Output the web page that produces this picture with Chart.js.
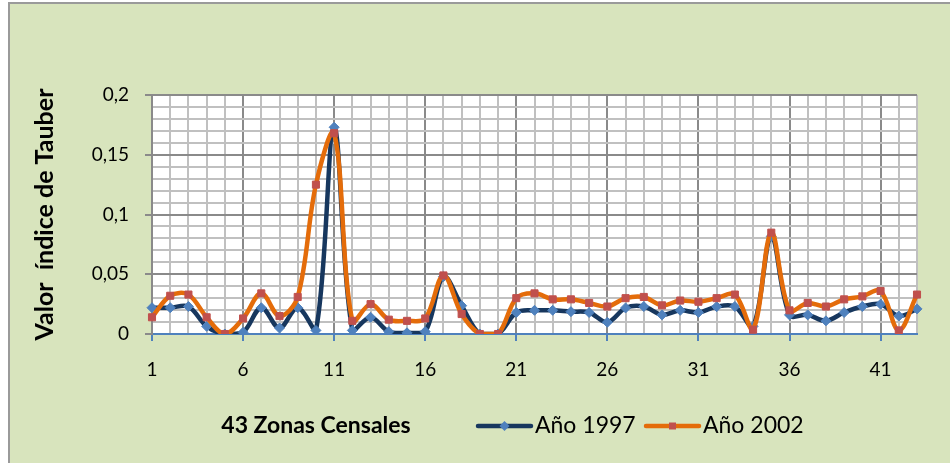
<!DOCTYPE html>
<html>
<head>
<meta charset="utf-8">
<script src="https://cdn.jsdelivr.net/npm/chart.js@4.4.1/dist/chart.umd.min.js"></script>
<style>
  html, body { margin: 0; padding: 0; background: #fff; }
  #wrap { width: 950px; height: 463px; }
</style>
</head>
<body>
<div id="wrap"><canvas id="chart" width="950" height="463"></canvas></div>
<script>
const zonas = ['1','2','3','4','5','6','7','8','9','10','11','12','13','14','15','16','17','18','19','20','21','22','23','24','25','26','27','28','29','30','31','32','33','34','35','36','37','38','39','40','41','42','43'];

const anio1997 = [0.022, 0.022, 0.023, 0.0064, 0, 0.0014, 0.022, 0.005, 0.022, 0.003,
  0.173, 0.003, 0.014, 0.002, 0.001, 0.002, 0.048, 0.0237, 0, 0,
  0.018, 0.0198, 0.0198, 0.0187, 0.018, 0.0098, 0.0218, 0.023, 0.016, 0.0198,
  0.018, 0.0229, 0.023, 0.0064, 0.0817, 0.016, 0.016, 0.011, 0.018, 0.023,
  0.025, 0.015, 0.021];

const anio2002 = [0.014, 0.032, 0.033, 0.014, 0, 0.013, 0.034, 0.015, 0.031, 0.125,
  0.168, 0.011, 0.025, 0.012, 0.011, 0.013, 0.049, 0.0167, 0, 0,
  0.030, 0.034, 0.029, 0.029, 0.026, 0.023, 0.030, 0.031, 0.024, 0.028,
  0.027, 0.030, 0.033, 0.0036, 0.0848, 0.0198, 0.026, 0.023, 0.029, 0.0315,
  0.036, 0.003, 0.033];

const yTickValues = [0, 0.05, 0.1, 0.15, 0.2];
const yTickLabels = ['0', '0,05', '0,1', '0,15', '0,2'];
const seriesNames = ['Año 1997', 'Año 2002'];

const MAJOR = '#8a8a8a';
const MINOR = '#c0c0c0';
const FONT = 'Lato';

// which y index is a labelled (major) line
function yMajorIndex(v) {
  for (let i = 0; i < yTickValues.length; i++) {
    if (Math.abs(v - yTickValues[i]) < 1e-6) return i;
  }
  return -1;
}

const frame = {
  id: 'frame',
  beforeDraw(chart) {
    const ctx = chart.ctx;
    const a = chart.chartArea;
    ctx.save();
    ctx.fillStyle = '#ffffff';
    ctx.fillRect(0, 0, chart.width, chart.height);
    ctx.fillStyle = '#d8e4bd';
    ctx.fillRect(9, 3, chart.width - 9, chart.height - 3);
    ctx.strokeStyle = '#9a9a9a';
    ctx.lineWidth = 2;
    ctx.beginPath();
    ctx.moveTo(9, chart.height);
    ctx.lineTo(9, 3);
    ctx.lineTo(chart.width, 3);
    ctx.stroke();
    ctx.fillStyle = '#ffffff';
    ctx.fillRect(a.left, a.top, a.right - a.left, a.bottom - a.top);
    ctx.restore();
  },
  afterDraw(chart) {
    const ctx = chart.ctx;
    const y = 426;
    ctx.save();
    ctx.fillStyle = '#000';
    ctx.textBaseline = 'middle';
    ctx.textAlign = 'center';
    ctx.font = 'bold 23px ' + FONT;
    ctx.fillText('43 Zonas Censales', 316, y);

    // legend
    const items = [
      { x: 478, ds: chart.data.datasets[0] },
      { x: 646, ds: chart.data.datasets[1] }
    ];
    items.forEach(it => {
      ctx.strokeStyle = it.ds.borderColor;
      ctx.lineWidth = 4.5;
      ctx.lineCap = 'round';
      ctx.beginPath();
      ctx.moveTo(it.x, y);
      ctx.lineTo(it.x + 53, y);
      ctx.stroke();
      ctx.fillStyle = it.ds.pointBackgroundColor;
      ctx.beginPath();
      const cx = it.x + 26.5;
      if (it.ds.pointStyle === 'rectRot') {
        ctx.moveTo(cx, y - 5);
        ctx.lineTo(cx + 5, y);
        ctx.lineTo(cx, y + 5);
        ctx.lineTo(cx - 5, y);
        ctx.closePath();
      } else {
        ctx.rect(cx - 3.5, y - 3.5, 7, 7);
      }
      ctx.fill();
      ctx.fillStyle = '#000';
      ctx.textAlign = 'left';
      ctx.font = '23px ' + FONT;
      ctx.fillText(it.ds.label, it.x + 57, y);
    });
    ctx.restore();
  }
};

new Chart(document.getElementById('chart'), {
  type: 'line',
  data: {
    labels: zonas,
    datasets: [{
      label: seriesNames[0],
      data: anio1997,
      borderColor: '#17375e',
      borderWidth: 4.5,
      pointStyle: 'rectRot',
      pointRadius: 5,
      pointBackgroundColor: '#4f81bd',
      pointBorderColor: '#4f81bd',
      pointBorderWidth: 1,
      tension: 0.35,
      order: 1
    }, {
      label: seriesNames[1],
      data: anio2002,
      borderColor: '#e46c0a',
      borderWidth: 4.5,
      pointStyle: 'rect',
      pointRadius: 5,
      pointBackgroundColor: '#c0504d',
      pointBorderColor: '#c0504d',
      pointBorderWidth: 1,
      tension: 0.35,
      order: 0
    }]
  },
  options: {
    responsive: false,
    animation: false,
    events: [],
    layout: { padding: { left: 0, top: 95, right: 33, bottom: 0 } },
    plugins: {
      legend: { display: false },
      tooltip: { enabled: false }
    },
    scales: {
      x: {
        type: 'category',
        offset: false,
        afterFit(scale) { scale.height = 129; },
        grid: {
          offset: false,
          lineWidth: 2,
          color: c => (c.index % 5 === 0 ? MAJOR : MINOR),
          tickColor: c => (c.index % 5 === 0 ? '#4f81bd' : 'rgba(0,0,0,0)'),
          tickLength: 7,
          tickWidth: 2
        },
        border: { color: '#4f81bd', width: 2 },
        ticks: {
          autoSkip: false,
          maxRotation: 0,
          padding: 17,
          color: '#000',
          font: { family: FONT, size: 19 },
          callback: (v, i) => (i % 5 === 0 ? zonas[i] : '')
        }
      },
      y: {
        min: 0,
        max: 0.2,
        afterFit(scale) { scale.width = 152; },
        grid: {
          lineWidth: 2,
          color: c => {
            const m = yMajorIndex(c.tick.value);
            if (m === 0) return 'rgba(0,0,0,0)';
            return m > 0 ? MAJOR : MINOR;
          },
          tickColor: c => (yMajorIndex(c.tick.value) >= 0 ? MAJOR : 'rgba(0,0,0,0)'),
          tickLength: 7,
          tickWidth: 2
        },
        border: { color: MAJOR, width: 2 },
        ticks: {
          stepSize: 0.01,
          autoSkip: false,
          padding: 16,
          color: '#000',
          font: { family: FONT, size: 19 },
          callback: v => {
            const m = yMajorIndex(v);
            return m >= 0 ? yTickLabels[m] : '';
          }
        },
        title: {
          display: true,
          text: 'Valor  índice de Tauber',
          color: '#000',
          font: { family: FONT, size: 25, weight: 'bold' },
          padding: { top: 30, bottom: 0 }
        }
      }
    }
  },
  plugins: [frame]
});
</script>
</body>
</html>
